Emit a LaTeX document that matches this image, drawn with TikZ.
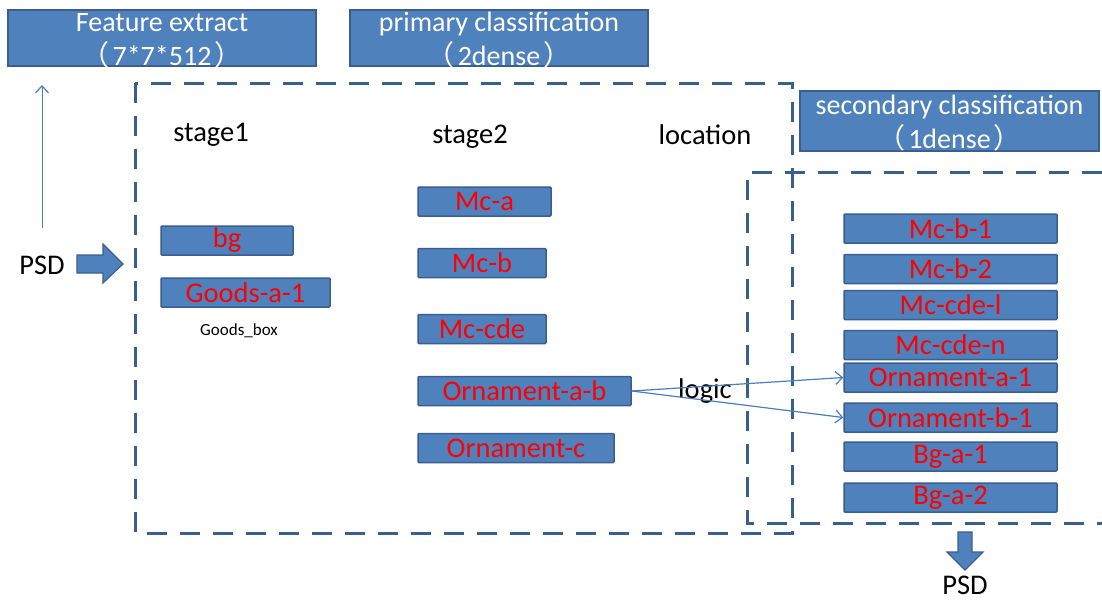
\documentclass[tikz,border=0pt]{standalone}
\usepackage{fontspec}
\setmainfont{Carlito}
\newfontfamily\cjk{Noto Sans CJK SC}
\usetikzlibrary{arrows.meta}
\definecolor{boxfill}{HTML}{4F81BD}
\definecolor{boxline}{HTML}{3A5F8E}
\definecolor{dashc}{HTML}{3A5F8E}
\definecolor{thinc}{HTML}{4A7EBB}
\newcommand{\twoline}[2]{\smash{\raisebox{-10pt}{\begin{tabular}[c]{@{}c@{}}#1\\#2\end{tabular}}}}
\newcommand{\lpar}{{\cjk （}\hspace{3pt}}
\newcommand{\rpar}{\hspace{3pt}{\cjk ）}}
\begin{document}
\begin{tikzpicture}[x=1pt,y=-1pt,
  bx/.style={draw=boxline, fill=boxfill, line width=1.5pt, rounded corners=1pt, inner sep=0pt,
    text=red, font=\fontsize{28.5}{28.5}\selectfont, minimum height=29pt},
  tb/.style={draw=boxline, fill=boxfill, line width=1.5pt, inner sep=0pt, text=white,
    font=\fontsize{28}{33}\selectfont},
  lbl/.style={inner sep=0pt, text=black, font=\fontsize{28.5}{28.5}\selectfont},
  dashbox/.style={draw=dashc, line width=3pt, dash pattern=on 20pt off 13pt},
  thin/.style={draw=thinc, line width=1.2pt, -{Straight Barb[length=7pt,width=13pt,line width=1.2pt]}},
  blockarrow/.style={fill=boxfill, draw=boxline, line width=1.2pt, line join=miter}
]
\useasboundingbox[fill=white] (0,0) rectangle (1102,600);

% title boxes
\node[tb, minimum width=308pt, minimum height=56pt] (fe) at (162,38)
  {\twoline{Feature extract}{\lpar 7*7*512\rpar}};
\node[tb, minimum width=298pt, minimum height=56pt] (pc) at (499,38)
  {\twoline{primary classification}{\lpar 2dense\rpar}};
\node[tb, minimum width=299pt, minimum height=60pt] (sc) at (949.5,121)
  {\twoline{secondary classification}{\lpar 1dense\rpar}};

% dashed regions
\draw[dashbox] (135,83) rectangle (792,533);
\draw[dashbox] (1102,172) -- (747,172) -- (747,523) -- (1102,523);

% labels
\node[lbl] (s1) at (211,135) {stage1};
\node[lbl] (s2) at (470,137) {stage2};
\node[lbl] (loc) at (705,135) {location};
\node[lbl] (lg) at (705,391) {logic};
\node[lbl, font=\fontsize{17}{17}\selectfont] (gb) at (239,331) {Goods\_box};
\node[lbl] (psd1) at (42,265) {PSD};
\node[lbl] (psd2) at (965,585) {PSD};

% stage1
\node[bx, minimum width=132pt] (bg) at (227,240.5) {bg};
\node[bx, minimum width=169pt] (ga1) at (245.5,292.5) {Goods-a-1};

% stage2
\node[bx, minimum width=133pt] (mca) at (484.5,201.5) {Mc-a};
\node[bx, minimum width=128pt] (mcb) at (482,263) {Mc-b};
\node[bx, minimum width=128pt] (mccde) at (482,329) {Mc-cde};
\node[bx, minimum width=213pt] (oab) at (524.5,391) {Ornament-a-b};
\node[bx, minimum width=196pt] (oc) at (516,448) {Ornament-c};

% secondary
\node[bx, minimum width=213pt] (mcb1) at (950.5,228.5) {Mc-b-1};
\node[bx, minimum width=213pt] (mcb2) at (950.5,269) {Mc-b-2};
\node[bx, minimum width=213pt] (mccdel) at (950.5,305) {Mc-cde-l};
\node[bx, minimum width=213pt] (mccden) at (950.5,345) {Mc-cde-n};
\node[bx, minimum width=213pt] (oa1) at (950.5,377.5) {Ornament-a-1};
\node[bx, minimum width=213pt] (ob1) at (950.5,417.5) {Ornament-b-1};
\node[bx, minimum width=213pt] (bga1) at (950.5,456.5) {Bg-a-1};
\node[bx, minimum width=213pt] (bga2) at (950.5,497.5) {Bg-a-2};

% connectors
\draw[thin] (oab.east) -- (oa1.west);
\draw[thin] (oab.east) -- (ob1.west);
\coordinate (upS) at (42,228);
\coordinate (upE) at (42,85);
\draw[thin, line width=1pt] (upS) -- (upE);

% block arrows
\draw[blockarrow] (77,255) -- (103,255) -- (103,244) -- (123,264) -- (103,283) -- (103,273) -- (77,273) -- cycle;
\draw[blockarrow] (958,532) -- (972,532) -- (972,552) -- (983,552) -- (965,570) -- (947,552) -- (958,552) -- cycle;
\end{tikzpicture}
\end{document}
